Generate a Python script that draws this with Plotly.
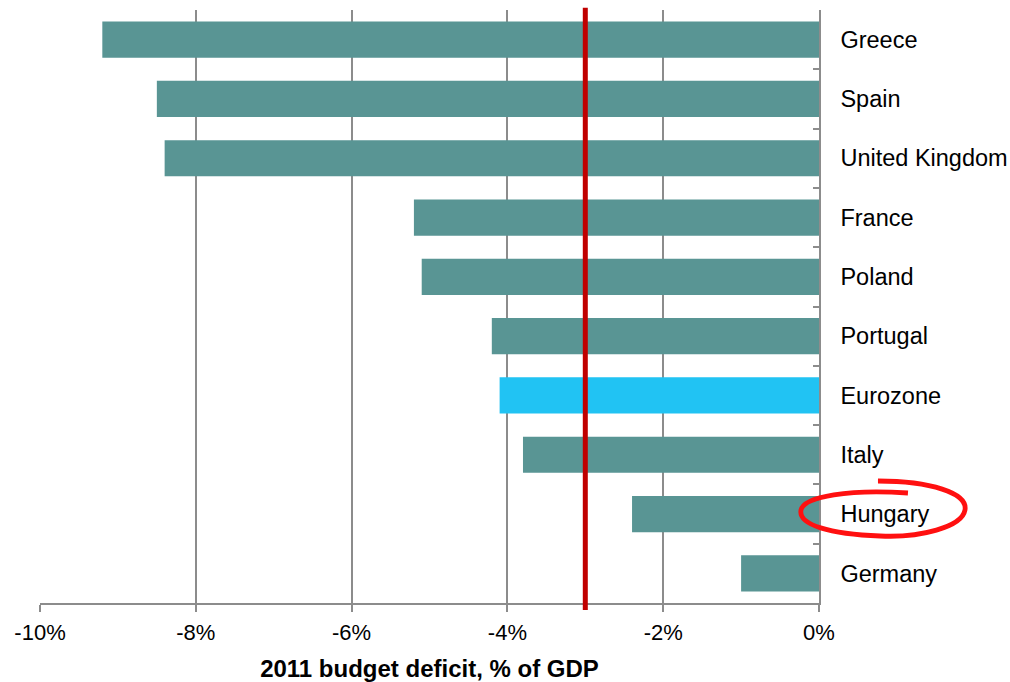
import plotly.graph_objects as go

countries = ["Greece", "Spain", "United Kingdom", "France", "Poland",
             "Portugal", "Eurozone", "Italy", "Hungary", "Germany"]
deficit = [-9.2, -8.5, -8.4, -5.2, -5.1, -4.2, -4.1, -3.8, -2.4, -1.0]
threshold = -3.0
x_ticks = [-10, -8, -6, -4, -2, 0]
x_tick_labels = ["-10%", "-8%", "-6%", "-4%", "-2%", "0%"]

TEAL = "#599594"
BLUE = "#21C3F3"
colors = [BLUE if c == "Eurozone" else TEAL for c in countries]

W, H = 1010, 682
ML, MT = 40, 10
PW, PH = 779, 593
MR, MB = W - ML - PW, H - MT - PH

fig = go.Figure()
fig.add_trace(go.Bar(
    x=deficit, y=countries, orientation="h",
    marker=dict(color=colors, line=dict(width=0)),
    hoverinfo="x+y",
))

fig.add_shape(type="line", xref="x", yref="paper",
              x0=threshold, x1=threshold, y0=-0.012, y1=1.004,
              line=dict(color="#C00000", width=5), layer="above")

# hand-drawn red ellipse around Hungary (annotation), pixel positions
def px(xp, yp):
    return (xp - ML) / PW, (MT + PH - yp) / PH

pts = [(878, 481), (930, 481), (968, 493), (965, 510),
       (962, 527), (920, 538), (880, 536),
       (830, 534), (798, 525), (801, 510),
       (804, 496), (850, 489), (908, 493)]
pp = [px(*p) for p in pts]
path = "M {:.4f},{:.4f}".format(*pp[0])
for i in range(1, len(pp), 3):
    path += " C {:.4f},{:.4f} {:.4f},{:.4f} {:.4f},{:.4f}".format(*pp[i], *pp[i + 1], *pp[i + 2])
fig.add_shape(type="path", xref="paper", yref="paper", path=path,
              line=dict(color="#FF1010", width=4.8), layer="above")

fig.update_layout(
    width=W, height=H,
    margin=dict(l=ML, r=MR, t=MT, b=MB, autoexpand=False),
    plot_bgcolor="white", paper_bgcolor="white",
    font=dict(family="Liberation Sans, Arial, sans-serif", size=22, color="black"),
    bargap=0.39,
    showlegend=False,
    xaxis=dict(
        range=[-10, 0], tickvals=x_ticks, ticktext=x_tick_labels,
        automargin=False,
        showgrid=True, gridcolor="#8C8C8C", gridwidth=1.5,
        showline=True, linecolor="#8C8C8C", linewidth=1.5,
        ticks="outside", ticklen=7, tickcolor="#8C8C8C", tickwidth=1.5,
        ticklabelstandoff=2,
        tickfont=dict(size=22),
        zeroline=False,
        title=dict(text="<b>2011 budget deficit, % of GDP</b>",
                   font=dict(size=24), standoff=17),
    ),
    yaxis=dict(
        side="right", categoryorder="array", categoryarray=countries,
        autorange="reversed", automargin=False,
        showline=True, linecolor="#8C8C8C", linewidth=1.5,
        ticks="inside", tickson="boundaries", ticklen=6,
        tickcolor="#8C8C8C", tickwidth=1.5,
        ticklabelstandoff=15,
        tickfont=dict(size=23.5),
        showgrid=False, zeroline=False,
    ),
)

fig.write_html(
    "out.html",
    config={"displayModeBar": False},
    post_script="document.body.style.margin='0';document.body.style.overflow='hidden';",
)
